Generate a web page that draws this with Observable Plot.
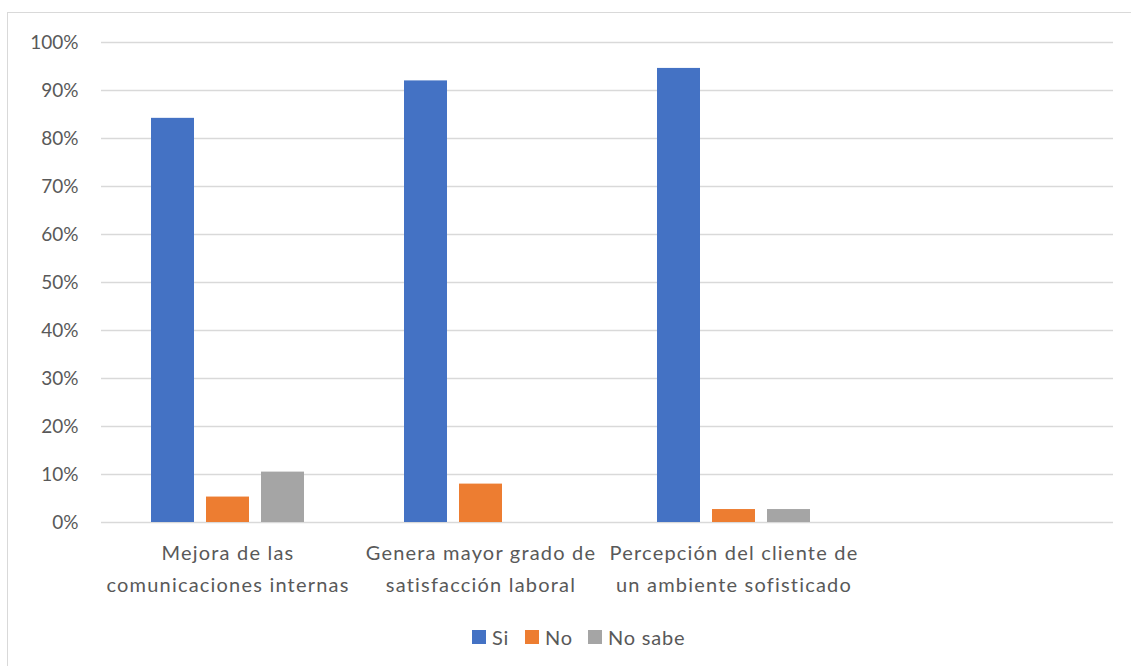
<!DOCTYPE html>
<html>
<head>
<meta charset="utf-8">
<script src="https://cdn.jsdelivr.net/npm/d3@7"></script>
<script src="https://cdn.jsdelivr.net/npm/@observablehq/plot@0.6"></script>
<style>
  html, body { margin: 0; padding: 0; background: #fff; overflow: hidden; width: 1131px; height: 666px; }
  #frame { position: absolute; left: 7px; top: 12px; width: 1300px; height: 800px; border: 1.5px solid #d9d9d9; box-sizing: border-box; }
  #chart { position: absolute; left: 0; top: 0; }
  #chart g[aria-label="fx-axis tick label"] text { letter-spacing: 1.2px; }
  #legend { position: absolute; top: 625px; left: 0; width: 1131px; height: 24px;
            font-family: Lato, sans-serif; font-size: 20px; letter-spacing: 0.8px; color: #595959; }
  .item { position: absolute; top: 0; display: flex; align-items: center; height: 24px; }
  .sw { width: 14px; height: 14px; margin-right: 6px; }
</style>
</head>
<body>
<div id="frame"></div>
<div id="chart"></div>
<div id="legend"></div>
<script>
const categories = [
  "Mejora de las\ncomunicaciones internas",
  "Genera mayor grado de\nsatisfacción laboral",
  "Percepción del cliente de\nun ambiente sofisticado",
  " "
];
const series = ["Si", "No", "No sabe"];
const colors = ["#4472C4", "#ED7D31", "#A5A5A5"];
const siValues = [84.2, 92.0, 94.6, null];
const noValues = [5.3, 8.0, 2.7, null];
const noSabeValues = [10.5, 0, 2.7, null];
const yTicks = [0, 10, 20, 30, 40, 50, 60, 70, 80, 90, 100];
const legendLefts = [472, 525, 588];

const valuesBySeries = [siValues, noValues, noSabeValues];
const data = [];
series.forEach((s, si) => {
  valuesBySeries[si].forEach((v, ci) => {
    data.push({category: categories[ci], series: s, value: v});
  });
});

const font = "Lato, sans-serif";
const plot = Plot.plot({
  width: 1131,
  height: 610,
  marginLeft: 101,
  marginRight: 18,
  marginTop: 42,
  marginBottom: 88,
  style: {fontFamily: font, fontSize: "19px", color: "#595959", background: "transparent"},
  fx: {domain: categories, padding: 0, label: null},
  x: {domain: series, paddingInner: 0.214, paddingOuter: 0.866, axis: null},
  y: {domain: [0, 100], label: null},
  color: {domain: series, range: colors},
  marks: [
    Plot.gridY(yTicks, {stroke: "#d9d9d9", strokeOpacity: 1, strokeWidth: 1.5}),
    Plot.axisY(yTicks, {tickSize: 0, tickPadding: 23, tickFormat: d => d + "%", fontSize: 19, label: null, fill: "#595959"}),
    Plot.axisFx({anchor: "bottom", tickSize: 0, tickPadding: 15, lineHeight: 1.6, fontSize: 20, label: null, fill: "#595959", lineAnchor: "top"}),
    Plot.barY(data, {fx: "category", x: "series", y: "value", fill: "series", filter: d => d.value != null})
  ]
});
document.getElementById("chart").appendChild(plot);

const legend = document.getElementById("legend");
series.forEach((s, i) => {
  const item = document.createElement("div");
  item.className = "item";
  item.style.left = legendLefts[i] + "px";
  const sw = document.createElement("span");
  sw.className = "sw";
  sw.style.background = colors[i];
  const t = document.createElement("span");
  t.textContent = s;
  item.appendChild(sw);
  item.appendChild(t);
  legend.appendChild(item);
});
</script>
</body>
</html>
